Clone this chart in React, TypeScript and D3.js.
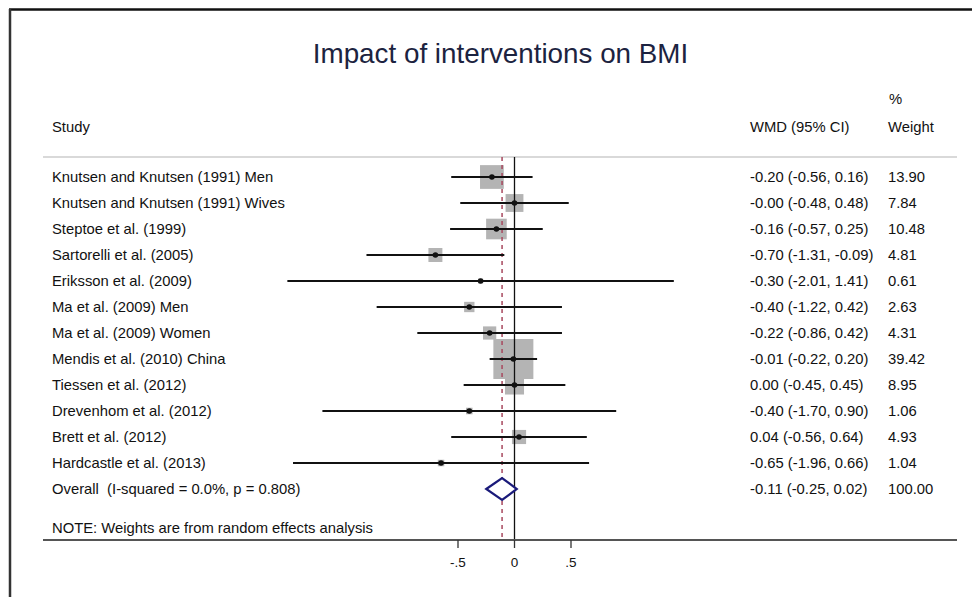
import React from "react";
import * as d3 from "d3";

const studies = [
  "Knutsen and Knutsen (1991) Men",
  "Knutsen and Knutsen (1991) Wives",
  "Steptoe et al. (1999)",
  "Sartorelli et al. (2005)",
  "Eriksson et al. (2009)",
  "Ma et al. (2009) Men",
  "Ma et al. (2009) Women",
  "Mendis et al. (2010) China",
  "Tiessen et al. (2012)",
  "Drevenhom et al. (2012)",
  "Brett et al. (2012)",
  "Hardcastle et al. (2013)",
];
const estimates = [-0.2, -0.0, -0.16, -0.7, -0.3, -0.4, -0.22, -0.01, 0.0, -0.4, 0.04, -0.65];
const lowers = [-0.56, -0.48, -0.57, -1.31, -2.01, -1.22, -0.86, -0.22, -0.45, -1.7, -0.56, -1.96];
const uppers = [0.16, 0.48, 0.25, -0.09, 1.41, 0.42, 0.42, 0.2, 0.45, 0.9, 0.64, 0.66];
const weights = [13.9, 7.84, 10.48, 4.81, 0.61, 2.63, 4.31, 39.42, 8.95, 1.06, 4.93, 1.04];
const ciLabels = [
  "-0.20 (-0.56, 0.16)",
  "-0.00 (-0.48, 0.48)",
  "-0.16 (-0.57, 0.25)",
  "-0.70 (-1.31, -0.09)",
  "-0.30 (-2.01, 1.41)",
  "-0.40 (-1.22, 0.42)",
  "-0.22 (-0.86, 0.42)",
  "-0.01 (-0.22, 0.20)",
  "0.00 (-0.45, 0.45)",
  "-0.40 (-1.70, 0.90)",
  "0.04 (-0.56, 0.64)",
  "-0.65 (-1.96, 0.66)",
  "-0.11 (-0.25, 0.02)",
];
const weightLabels = ["13.90", "7.84", "10.48", "4.81", "0.61", "2.63", "4.31", "39.42", "8.95", "1.06", "4.93", "1.04", "100.00"];
const overallLabel = "Overall  (I-squared = 0.0%, p = 0.808)";
const overallEst = -0.11;
const overallLo = -0.25;
const overallHi = 0.02;
const tickValues = [-0.5, 0, 0.5];
const tickLabels = ["-.5", "0", ".5"];

const W = 972;
const H = 597;
const FONT = "'Liberation Sans', Arial, Helvetica, sans-serif";

export default function App() {
  const x = d3.scaleLinear().domain([-1, 1]).range([514.5 - 113, 514.5 + 113]);
  const rowIdx = d3.range(studies.length + 1);
  const y = d3.scaleLinear().domain([0, 12]).range([177, 489]);
  const side = d3.scaleSqrt().domain([0, 39.42]).range([0, 40]);

  const topY = 157;
  const bottomY = 540;
  const leftX = 43;
  const rightX = 957;
  const labelX = 52;
  const ciX = 750;
  const wX = 888;
  const fs = 14.8;

  const oy = y(12);
  const diamond = [
    [x(overallLo), oy],
    [x(overallEst), oy - 11],
    [x(overallHi), oy],
    [x(overallEst), oy + 11],
  ];

  return (
    <svg
      width={W}
      height={H}
      style={{ position: "absolute", left: 0, top: 0, background: "#fff" }}
      fontFamily={FONT}
    >
      <rect x={0} y={0} width={W} height={H} fill="#fff" />
      {/* frame */}
      <line x1={9} y1={9.5} x2={W} y2={9.5} stroke="#111" strokeWidth={2.5} />
      <line x1={10} y1={9} x2={10} y2={H} stroke="#333" strokeWidth={2.5} />

      {/* title */}
      <text x={500.5} y={62.5} textAnchor="middle" fontSize={27.8} fill="#1c2340">
        Impact of interventions on BMI
      </text>

      {/* headers */}
      <text x={labelX} y={132} fontSize={fs} fill="#111">Study</text>
      <text x={ciX} y={132} fontSize={fs} fill="#111">WMD (95% CI)</text>
      <text x={wX + 1} y={104} fontSize={fs} fill="#111">%</text>
      <text x={wX} y={132} fontSize={fs} fill="#111">Weight</text>

      <line x1={leftX} x2={rightX} y1={topY} y2={topY} stroke="#cccccc" strokeWidth={1.5} />

      {/* boxes */}
      {studies.map((s, i) => {
        const sd = side(weights[i]);
        return (
          <rect
            key={"b" + i}
            x={x(estimates[i]) - sd / 2}
            y={y(i) - sd / 2}
            width={sd}
            height={sd}
            fill="#b4b4b4"
          />
        );
      })}

      {/* zero line */}
      <line x1={x(0)} x2={x(0)} y1={topY} y2={bottomY} stroke="#111" strokeWidth={1.3} />
      {/* overall dashed line */}
      <line
        x1={x(overallEst)}
        x2={x(overallEst)}
        y1={topY}
        y2={bottomY}
        stroke="#a8485e"
        strokeWidth={1.5}
        strokeDasharray="4,4"
      />

      {/* CI lines and points */}
      {studies.map((s, i) => (
        <g key={"c" + i}>
          <line x1={x(lowers[i])} x2={x(uppers[i])} y1={y(i)} y2={y(i)} stroke="#111" strokeWidth={2.2} />
          <circle cx={x(estimates[i])} cy={y(i)} r={2.8} fill="#111" />
        </g>
      ))}

      {/* diamond */}
      <polygon
        points={diamond.map((p) => p.join(",")).join(" ")}
        fill="#fff"
        stroke="#1a1a7a"
        strokeWidth={2.2}
      />

      {/* labels */}
      {rowIdx.map((i) => (
        <g key={"t" + i}>
          <text x={labelX} y={y(i) + 5} fontSize={fs} fill="#111" style={{ whiteSpace: "pre" }}>
            {i < studies.length ? studies[i] : overallLabel}
          </text>
          <text x={ciX} y={y(i) + 5} fontSize={fs} fill="#111">{ciLabels[i]}</text>
          <text x={wX} y={y(i) + 5} fontSize={fs} fill="#111">{weightLabels[i]}</text>
        </g>
      ))}

      <text x={labelX} y={533} fontSize={fs} fill="#111">
        NOTE: Weights are from random effects analysis
      </text>

      {/* bottom rule / axis */}
      <line x1={leftX} x2={rightX} y1={bottomY} y2={bottomY} stroke="#555" strokeWidth={2} />
      {tickValues.map((t, i) => (
        <g key={"k" + i}>
          <line x1={x(t)} x2={x(t)} y1={bottomY} y2={bottomY + 8} stroke="#333" strokeWidth={1.3} />
          <text x={x(t)} y={566.5} textAnchor="middle" fontSize={13.5} fill="#111">
            {tickLabels[i]}
          </text>
        </g>
      ))}
    </svg>
  );
}
